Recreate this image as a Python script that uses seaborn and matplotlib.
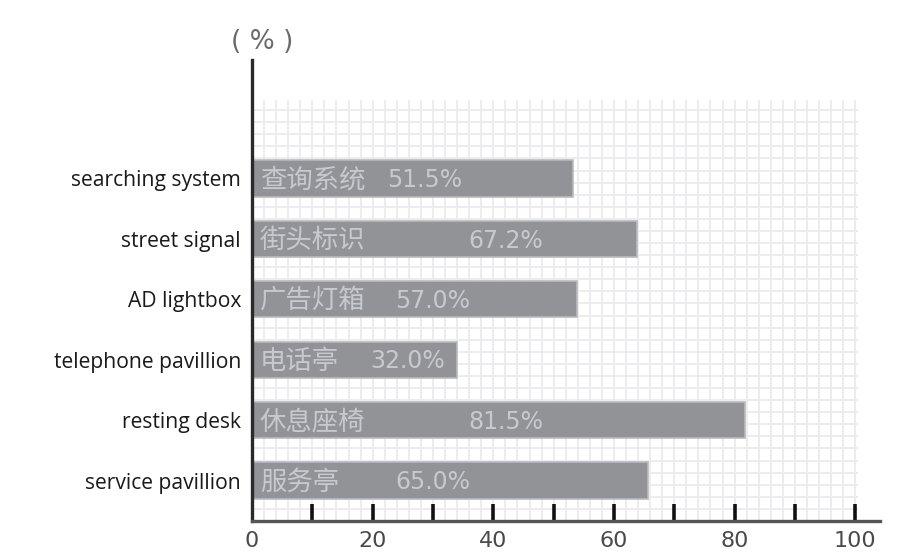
import numpy as np
import pandas as pd
import matplotlib
matplotlib.use('Agg')
import matplotlib.pyplot as plt
import seaborn as sns

# ==================== 数据 ====================
categories = ['searching system', 'street signal', 'AD lightbox',
              'telephone pavillion', 'resting desk', 'service pavillion']
cn_names = ['查询系统', '街头标识', '广告灯箱', '电话亭', '休息座椅', '服务亭']
pct_labels = ['51.5%', '67.2%', '57.0%', '32.0%', '81.5%', '65.0%']
# 条形长度（按图中实际绘制长度读取）
bar_values = [53.2, 63.8, 53.9, 34.0, 81.8, 65.7]
x_ticks = [0, 20, 40, 60, 80, 100]

# 百分比文字在条内的起始位置（样式）
pct_x = [22.4, 35.8, 23.7, 19.6, 35.8, 23.7]

df = pd.DataFrame({'cat': categories, 'val': bar_values})

# ==================== 绘图 ====================
sns.set_theme(style='white')
plt.rcParams['font.family'] = ['Open Sans', 'Noto Sans CJK SC', 'DejaVu Sans']

fig = plt.figure(figsize=(9.21, 5.57), dpi=100)
ax = fig.add_axes([252 / 921, 1 - 521 / 557, (880 - 252) / 921, (521 - 60) / 557])

y_bottom, y_top, grid_top = 5.67, -1.96, -1.30

# 细网格
ax.vlines(np.arange(2, 101, 2), grid_top, y_bottom, color='#ececee', lw=1.3, zorder=0)
ax.hlines(np.arange(y_bottom - 0.2, grid_top - 0.01, -0.2), 0, 100.5,
          color='#ececee', lw=1.3, zorder=0)

sns.barplot(data=df, x='val', y='cat', orient='h', color='#929397', saturation=1,
            width=0.6, edgecolor='#b8babe', linewidth=1.2, ax=ax, zorder=2)

for i, (cn, pl) in enumerate(zip(cn_names, pct_labels)):
    ax.text(1.3, i + 0.03, cn, va='center', ha='left', fontsize=19,
            color='#c6c9cd', family=['Noto Sans CJK SC', 'DejaVu Sans'], zorder=3)
    ax.text(pct_x[i], i + 0.03, pl, va='center', ha='left', fontsize=17,
            color='#c6c9cd', family='DejaVu Sans', zorder=3)

ax.set_xlim(0, 104.1)
ax.set_ylim(y_bottom, y_top)
ax.set_xlabel('')
ax.set_ylabel('')

ax.set_xticks(np.arange(10, 101, 10))
ax.set_xticklabels(['' if t % 20 else str(t) for t in range(10, 101, 10)])
ax.set_xticks(x_ticks[:1], minor=True)
ax.set_xticklabels(['0'], minor=True)
ax.tick_params(axis='x', which='major', bottom=True, direction='in', length=12,
               width=2.6, color='#111111', labelsize=16, labelcolor='#4a4a4a', pad=7)
ax.tick_params(axis='x', which='minor', bottom=True, length=0, labelsize=16,
               labelcolor='#4a4a4a', pad=7)
for lab in ax.get_xticklabels(which='both'):
    lab.set_family('DejaVu Sans')
ax.tick_params(axis='y', length=0, labelsize=15.2, labelcolor='#1a1a1a', pad=8)

for s in ['top', 'right']:
    ax.spines[s].set_visible(False)
ax.spines['left'].set_linewidth(2.4)
ax.spines['left'].set_color('#2a2a2a')
ax.spines['bottom'].set_linewidth(2.4)
ax.spines['bottom'].set_color('#555555')

fig.text(262 / 921, 1 - 42 / 557, '( % )', ha='center', va='center',
         fontsize=19, color='#6a6a6a', family='DejaVu Sans')

fig.savefig('out.png', dpi=100)
